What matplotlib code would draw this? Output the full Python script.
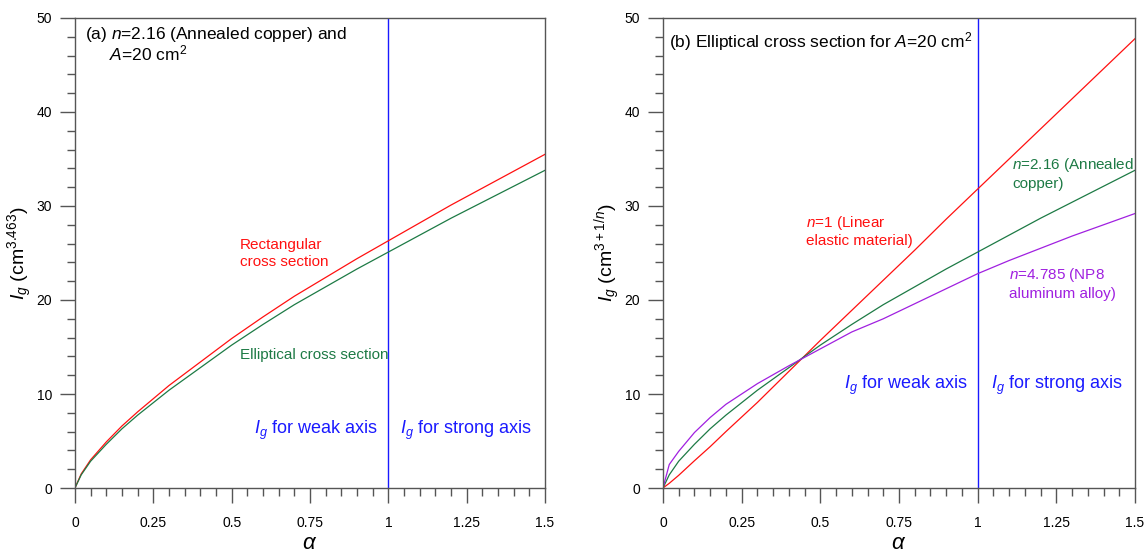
import matplotlib
matplotlib.use("Agg")
import matplotlib.pyplot as plt
import numpy as np
from matplotlib.ticker import MultipleLocator, FuncFormatter

plt.rcParams['font.family'] = ['Liberation Sans', 'DejaVu Sans']
plt.rcParams['mathtext.fontset'] = 'custom'
plt.rcParams['mathtext.rm'] = 'Liberation Sans'
plt.rcParams['mathtext.it'] = 'Liberation Sans:italic'

# ---- data ----
alpha = [0, 0.02, 0.05, 0.1, 0.15, 0.2, 0.3, 0.4, 0.5, 0.6, 0.7, 0.8, 0.9,
         1.0, 1.1, 1.2, 1.3, 1.4, 1.5]
rect = [0, 1.5, 3.0, 4.9, 6.6, 8.1, 10.9, 13.4, 15.9, 18.2, 20.4, 22.4, 24.4,
        26.3, 28.2, 30.1, 31.9, 33.7, 35.5]
ellip = [0, 1.4, 2.85, 4.65, 6.3, 7.75, 10.4, 12.8, 15.2, 17.4, 19.5, 21.4, 23.3,
         25.1, 26.9, 28.7, 30.4, 32.1, 33.8]
lin = [0, 0.5, 1.35, 2.9, 4.4, 6.0, 9.1, 12.4, 15.7, 18.9, 22.1, 25.3, 28.6,
       31.8, 35.0, 38.2, 41.4, 44.6, 47.8]
alum = [0, 2.5, 3.9, 5.9, 7.5, 8.9, 11.1, 13.0, 14.8, 16.6, 18.0, 19.6, 21.2,
        22.8, 24.2, 25.5, 26.8, 28.0, 29.2]

RED = '#ff1010'
GREEN = '#1d7a45'
PURPLE = '#a020e0'
BLUE = '#1a1aff'
SPINE = '#555555'

fig = plt.figure(figsize=(11.46, 5.55), dpi=100)
ax1 = fig.add_axes([0.0654, 0.1207, 0.4102, 0.8469])
ax2 = fig.add_axes([0.5785, 0.1207, 0.4119, 0.8469])


def fmt(v, pos):
    s = ('%.2f' % v).rstrip('0').rstrip('.')
    return s


for ax in (ax1, ax2):
    ax.set_xlim(0, 1.5)
    ax.set_ylim(0, 50)
    ax.xaxis.set_major_locator(MultipleLocator(0.25))
    ax.xaxis.set_minor_locator(MultipleLocator(0.05))
    ax.yaxis.set_major_locator(MultipleLocator(10))
    ax.yaxis.set_minor_locator(MultipleLocator(2))
    ax.xaxis.set_major_formatter(FuncFormatter(fmt))
    ax.tick_params(which='major', direction='out', length=11, width=1,
                   color=SPINE, labelsize=10)
    ax.tick_params(which='minor', direction='out', length=6, width=1,
                   color=SPINE)
    ax.tick_params(axis='x', which='major', pad=9)
    ax.tick_params(axis='y', which='major', pad=5.5)
    for sp in ax.spines.values():
        sp.set_color(SPINE)
        sp.set_linewidth(1)
    ax.axvline(1.0, color=BLUE, lw=1)
    ax.set_xlabel(r'$\alpha$', fontsize=16)
    ax.xaxis.set_label_coords(0.5, -0.096)

# (a)
ax1.plot(alpha, rect, color=RED, lw=0.9)
ax1.plot(alpha, ellip, color=GREEN, lw=0.9)
ax1.set_ylabel(r'$I_g$ (cm$^{3.463}$)', fontsize=14)
ax1.yaxis.set_label_coords(-0.088, 0.5)
ax1.text(0.021, 0.964, r'(a) $n$=2.16 (Annealed copper) and',
         transform=ax1.transAxes, fontsize=12.5, ha='left', va='center')
ax1.text(0.072, 0.9255, r'$A$=20 cm$^2$',
         transform=ax1.transAxes, fontsize=12.5, ha='left', va='center')
ax1.text(0.527, 26.6, 'Rectangular\ncross section', color=RED,
         fontsize=11, ha='left', va='top', linespacing=1.25)
ax1.text(0.527, 14.1, 'Elliptical cross section', color=GREEN,
         fontsize=11, ha='left', va='center')
ax1.text(0.966, 6.1, r'$I_g$ for weak axis', color=BLUE, fontsize=13,
         ha='right', va='center')
ax1.text(1.037, 6.1, r'$I_g$ for strong axis', color=BLUE, fontsize=13,
         ha='left', va='center')

# (b)
ax2.plot(alpha, lin, color=RED, lw=0.9)
ax2.plot(alpha, ellip, color=GREEN, lw=0.9)
ax2.plot(alpha, alum, color=PURPLE, lw=0.9)
ax2.set_ylabel(r'$I_g$ (cm$^{3+1/n}$)', fontsize=14)
ax2.yaxis.set_label_coords(-0.085, 0.5)
ax2.text(0.013, 0.949, r'(b) Elliptical cross section for $A$=20 cm$^2$',
         transform=ax2.transAxes, fontsize=12.5, ha='left', va='center')
ax2.text(0.454, 29.2, '$n$=1 (Linear\nelastic material)', color=RED,
         fontsize=11, ha='left', va='top', linespacing=1.25)
ax2.text(1.109, 35.3, '$n$=2.16 (Annealed\ncopper)', color=GREEN,
         fontsize=11, ha='left', va='top', linespacing=1.25)
ax2.text(1.10, 23.6, '$n$=4.785 (NP8\naluminum alloy)', color=PURPLE,
         fontsize=11, ha='left', va='top', linespacing=1.25)
ax2.text(0.969, 10.9, r'$I_g$ for weak axis', color=BLUE, fontsize=13,
         ha='right', va='center')
ax2.text(1.042, 10.9, r'$I_g$ for strong axis', color=BLUE, fontsize=13,
         ha='left', va='center')

fig.savefig('out.png', dpi=100)
